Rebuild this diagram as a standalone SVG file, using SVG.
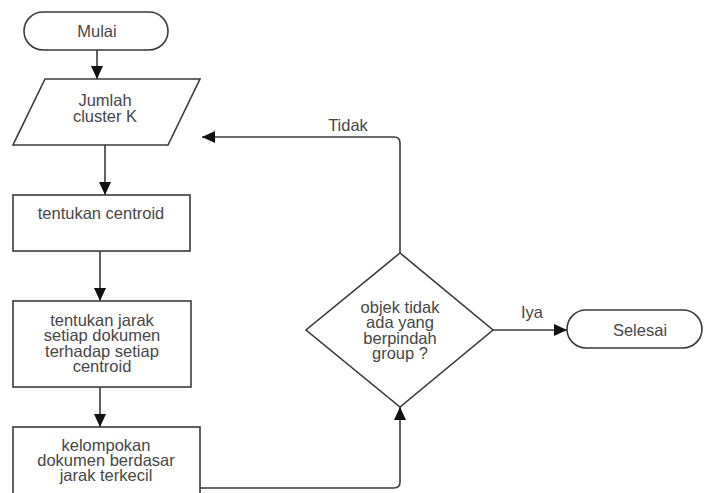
<svg xmlns="http://www.w3.org/2000/svg" width="704" height="493" viewBox="0 0 704 493">
<defs>
<style>
.shape{fill:#fff;stroke:#3a3a3a;stroke-width:1.6}
.conn{fill:none;stroke:#3a3a3a;stroke-width:1.6}
.t{font-family:"Liberation Sans",Arial,sans-serif;font-size:16.5px;fill:#474747;text-anchor:middle}
</style>
<marker id="ah" viewBox="0 0 13 12" markerWidth="13" markerHeight="12" refX="13" refY="6" orient="auto" markerUnits="userSpaceOnUse">
<path d="M0,0 L13,6 L0,12 z" fill="#111"/>
</marker>
</defs>
<rect width="704" height="493" fill="#fff"/>
<g id="connectors">
<line class="conn" x1="97" y1="50" x2="97" y2="79" marker-end="url(#ah)"/>
<line class="conn" x1="105" y1="145" x2="105" y2="195" marker-end="url(#ah)"/>
<line class="conn" x1="100" y1="251" x2="100" y2="301" marker-end="url(#ah)"/>
<line class="conn" x1="100" y1="387" x2="100" y2="427" marker-end="url(#ah)"/>
<path class="conn" d="M200,488 H394 Q400,488 400,482 V407" marker-end="url(#ah)"/>
<path class="conn" d="M400,253 V143 Q400,137 394,137 H202" marker-end="url(#ah)"/>
<path class="conn" d="M493,330 H567" marker-end="url(#ah)"/>
<text class="t" x="348" y="131">Tidak</text>
<text class="t" x="532" y="318">Iya</text>
</g>
<g id="mulai">
<rect class="shape" x="24" y="12" width="144" height="38" rx="19"/>
<text class="t" x="97" y="37">Mulai</text>
</g>
<g id="jumlah">
<polygon class="shape" points="45,79 200,79 168,145 13,145"/>
<text class="t" y="105.5"><tspan x="105">Jumlah</tspan><tspan x="105" dy="16">cluster K</tspan></text>
</g>
<g id="centroid">
<rect class="shape" x="13" y="195" width="177" height="56"/>
<text class="t" x="101" y="219">tentukan centroid</text>
</g>
<g id="jarak">
<rect class="shape" x="13" y="301" width="178" height="86"/>
<text class="t" y="325.5"><tspan x="102">tentukan jarak</tspan><tspan x="102" dy="15.5">setiap dokumen</tspan><tspan x="102" dy="15.5">terhadap setiap</tspan><tspan x="102" dy="15.5">centroid</tspan></text>
</g>
<g id="kelompok">
<rect class="shape" x="13" y="427" width="187" height="72"/>
<text class="t" y="450.5"><tspan x="106">kelompokan</tspan><tspan x="106" dy="15.2">dokumen berdasar</tspan><tspan x="106" dy="15.2">jarak terkecil</tspan></text>
</g>
<g id="keputusan">
<polygon class="shape" points="400,253 493,330 400,407 306,330"/>
<text class="t" y="312.5"><tspan x="400">objek tidak</tspan><tspan x="400" dy="15.5">ada yang</tspan><tspan x="400" dy="15.5">berpindah</tspan><tspan x="400" dy="15.5">group ?</tspan></text>
</g>
<g id="selesai">
<rect class="shape" x="567" y="310" width="135" height="38" rx="19"/>
<text class="t" x="640" y="335.5">Selesai</text>
</g>
</svg>
